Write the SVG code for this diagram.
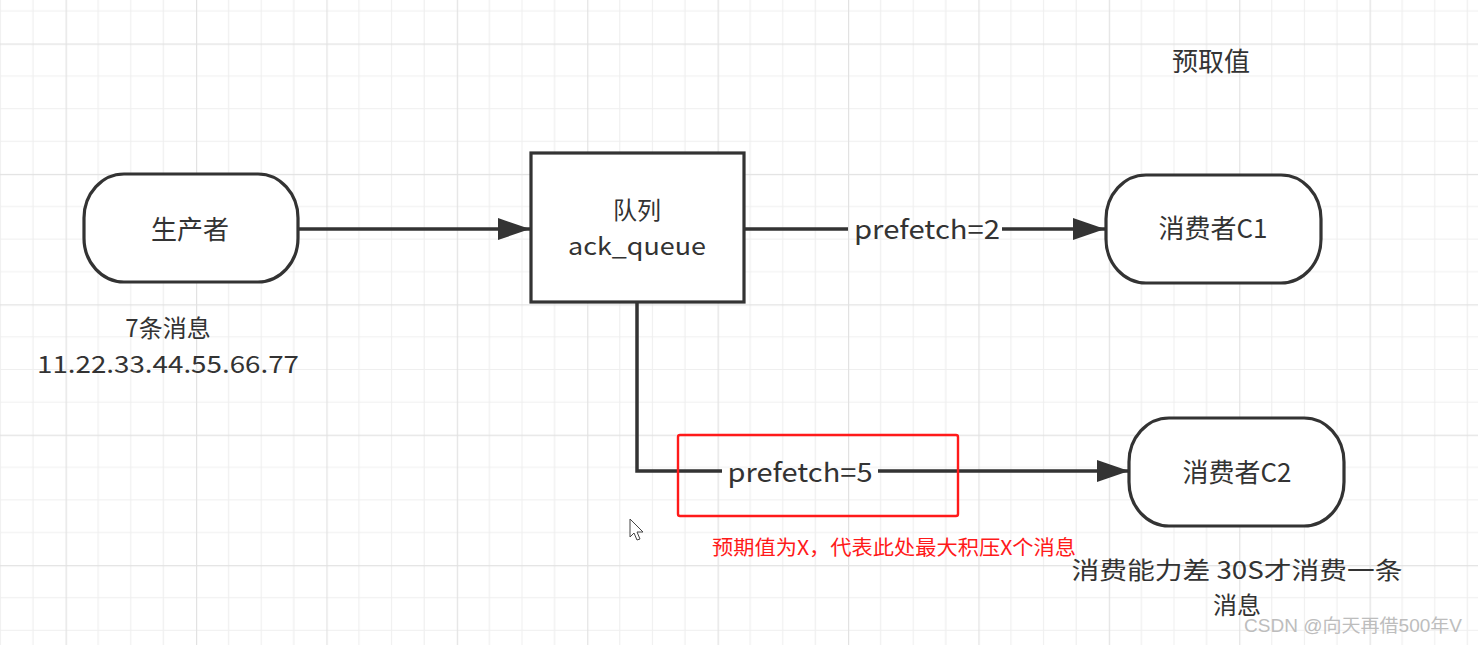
<svg xmlns="http://www.w3.org/2000/svg" width="1478" height="645" viewBox="0 0 1478 645">
<defs>
<pattern id="grid" x="65.6" y="43.5" width="130.4" height="130.4" patternUnits="userSpaceOnUse">
<path d="M32.6 0V130.4M65.2 0V130.4M97.8 0V130.4M0 32.6H130.4M0 65.2H130.4M0 97.8H130.4" stroke="#efefef" stroke-width="1.2" fill="none"/>
<path d="M0.5 0V130.4M0 0.5H130.4" stroke="#e2e2e2" stroke-width="1.4" fill="none"/>
</pattern>
<marker id="arr" viewBox="0 0 32 22" refX="32" refY="11" markerWidth="32" markerHeight="22" markerUnits="userSpaceOnUse" orient="auto">
<path d="M0 0L32 11L0 22Z" fill="#333"/>
</marker>
<style>
.node{fill:#fff;stroke:#333;stroke-width:3.2}
.edge{fill:none;stroke:#333;stroke-width:3.5}
.t{font-family:"Noto Sans CJK SC","Noto Sans",sans-serif;font-size:26px;fill:#333;text-anchor:middle}
.s{font-size:24px}
.red{font-family:"Noto Sans CJK SC","Noto Sans",sans-serif;font-size:20px;fill:#ff1a1a}
</style>
</defs>
<rect width="1478" height="645" fill="#fff"/>
<rect width="1478" height="645" fill="url(#grid)"/>

<g id="connectors">
<path class="edge" d="M298 229H530" marker-end="url(#arr)"/>
<path class="edge" d="M744 229H848M1002 229H1105" marker-end="url(#arr)"/>
<path class="edge" d="M637 303V471H722M878 471H1129" marker-end="url(#arr)"/>
<text class="t" x="927" y="239" textLength="146" lengthAdjust="spacingAndGlyphs">prefetch=2</text>
<text class="t" x="800" y="482" textLength="145" lengthAdjust="spacingAndGlyphs">prefetch=5</text>
</g>

<g id="producer">
<rect class="node" x="84" y="174" width="214" height="108" rx="40" ry="44"/>
<text class="t" x="190" y="239">生产者</text>
</g>

<g id="queue">
<rect class="node" x="531" y="153" width="213" height="149"/>
<text class="t s" x="637" y="219">队列</text>
<text class="t s" x="637" y="255" textLength="138" lengthAdjust="spacingAndGlyphs">ack_queue</text>
</g>

<g id="consumerC1">
<rect class="node" x="1106" y="175" width="215" height="108" rx="40" ry="44"/>
<text class="t" x="1213" y="238">消费者C1</text>
</g>

<g id="consumerC2">
<rect class="node" x="1129" y="418" width="215" height="108" rx="40" ry="44"/>
<text class="t" x="1237" y="482">消费者C2</text>
</g>

<g id="notes">
<text class="t" x="1211" y="71">预取值</text>
<text class="t s" x="168" y="337">7条消息</text>
<text class="t s" x="168" y="373" textLength="262" lengthAdjust="spacingAndGlyphs">11.22.33.44.55.66.77</text>
<text class="t s" x="1237" y="579" textLength="331" lengthAdjust="spacingAndGlyphs">消费能力差 30S才消费一条</text>
<text class="t s" x="1237" y="614">消息</text>
<rect x="678" y="435" width="280" height="81" rx="2" fill="none" stroke="#ff1a1a" stroke-width="2.4"/>
<text class="red" x="712" y="555" textLength="364" lengthAdjust="spacingAndGlyphs">预期值为X，代表此处最大积压X个消息</text>
<text x="1244" y="632" font-family="Liberation Sans,&quot;Noto Sans CJK SC&quot;,sans-serif" font-size="18" fill="#bdbdbd" textLength="218" lengthAdjust="spacingAndGlyphs">CSDN @向天再借500年V</text>
<path d="M630 519V537L634 533L637 540L640 539L637 532L643 532Z" fill="#fff" stroke="#444" stroke-width="1"/>
</g>
</svg>
